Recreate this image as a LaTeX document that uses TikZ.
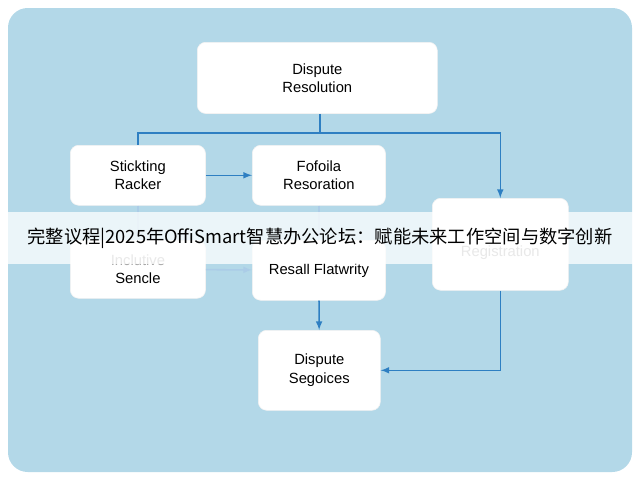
\documentclass[tikz,border=0pt]{standalone}
\usepackage{fontspec}
\setmainfont{Liberation Sans}
\newfontfamily\cjk{Noto Sans CJK SC}
\usetikzlibrary{arrows,backgrounds}
\definecolor{bgblue}{HTML}{B3D8E8}
\definecolor{lineblue}{HTML}{2E7FC2}
\begin{document}
\begin{tikzpicture}[x=0.025cm,y=-0.025cm]
\tikzstyle{block} = [rectangle, draw=white!90!gray, fill=white, rounded corners=6pt,
text centered, align=center, font=\fontsize{10.5}{13}\selectfont, anchor=north west]
\tikzstyle{line} = [draw, lineblue, line width=1.1pt, -latex]
\tikzstyle{faint} = [draw, lineblue!40, line width=1.1pt, -latex]
\useasboundingbox (0,0) rectangle (640,480);
\fill[bgblue, rounded corners=14pt] (8,8) rectangle (632,472);
% boxes
\node [block, minimum width=6.0cm, minimum height=1.78cm] (top) at (197,42) {Dispute\\Resolution};
\node [block, minimum width=3.38cm, minimum height=1.5cm] (stick) at (70,145) {Stickting\\Racker};
\node [block, minimum width=3.33cm, minimum height=1.5cm] (fofo) at (252,145) {Fofoila\\Resoration};
\node [block, minimum width=3.4cm, minimum height=2.3cm] (regist) at (432,198) {\\[6pt]\color{gray!70}Registration};
\node [block, minimum width=3.38cm, minimum height=1.45cm] (incl) at (70,240) {\color{gray!70}Inclutive\\Sencle};
\node [block, minimum width=3.33cm, minimum height=1.5cm] (resall) at (252,240) {Resall Flatwrity};
\node [block, minimum width=3.05cm, minimum height=2cm] (segoi) at (258,330) {Dispute\\Segoices};
% connectors
\coordinate (split) at (320,133);
\draw [lineblue, line width=1.1pt] (top.south -| split) -- (split);
\draw [lineblue, line width=1.1pt] (split) -| (stick.north);
\path [line] (split) -| (regist.north);
\path [line] (stick) -- (fofo);
\path [faint] (stick) -- (incl);
\path [faint] (fofo) -- (resall);
\path [faint] (incl) -- (resall);
\path [line] (resall) -- (segoi);
\path [line] (regist.south) |- (segoi.east);
% banner
\fill [white, opacity=0.75] (0,212) rectangle (640,264);
\node (banner) at (320,238) {\cjk\fontsize{13}{15}\selectfont 完整议程|2025年OffiSmart智慧办公论坛：赋能未来工作空间与数字创新};
\end{tikzpicture}
\end{document}
